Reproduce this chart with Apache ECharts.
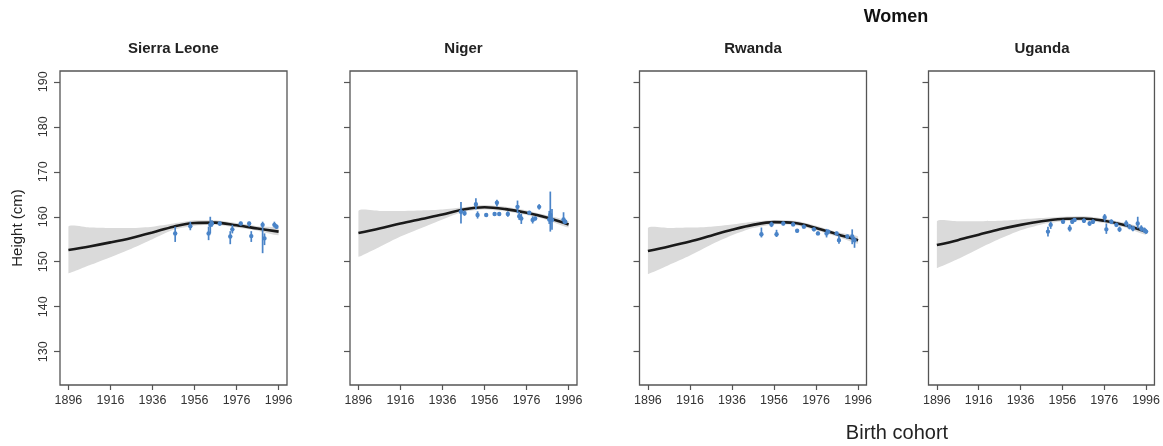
<!DOCTYPE html>
<html>
<head>
<meta charset="utf-8">
<script src="https://cdn.jsdelivr.net/npm/echarts@6/dist/echarts.min.js"></script>
<style>html,body{margin:0;padding:0;background:#fff}#c{width:1163px;height:446px}</style>
</head>
<body>
<div id="c"></div>
<script>
// ---- Data ----
const countries = ['Sierra Leone', 'Niger', 'Rwanda', 'Uganda'];
const xTicks = [1896, 1916, 1936, 1956, 1976, 1996];
const yTicks = [130, 140, 150, 160, 170, 180, 190];
const fitYears = [1896, 1906, 1916, 1926, 1936, 1946, 1956, 1966, 1976, 1986, 1996];

const sierraFit = [152.6, 153.4, 154.3, 155.3, 156.5, 157.8, 158.6, 158.7, 158.1, 157.4, 156.7];
const sierraUpper = [157.8, 157.6, 157.5, 157.5, 157.8, 158.5, 159.2, 159.2, 158.6, 157.9, 157.5];
const sierraLower = [147.4, 149.2, 151.0, 152.9, 155.0, 157.1, 158.0, 158.2, 157.6, 156.9, 155.9];

const nigerFit = [156.4, 157.4, 158.5, 159.5, 160.5, 161.6, 162.1, 161.7, 160.9, 159.8, 158.3];
const nigerUpper = [161.3, 161.3, 161.3, 161.4, 161.6, 162.1, 162.6, 162.2, 161.4, 160.3, 159.0];
const nigerLower = [151.1, 153.3, 155.6, 157.5, 159.4, 161.1, 161.6, 161.2, 160.4, 159.3, 157.6];

const rwandaFit = [152.4, 153.4, 154.5, 155.8, 157.1, 158.2, 158.8, 158.6, 157.5, 156.1, 154.8];
const rwandaUpper = [157.5, 157.5, 157.6, 157.8, 158.3, 158.9, 159.3, 159.1, 158.0, 156.6, 155.6];
const rwandaLower = [147.3, 149.3, 151.4, 153.8, 155.9, 157.5, 158.3, 158.1, 157.0, 155.6, 154.0];

const ugandaFit = [153.7, 154.8, 156.0, 157.2, 158.2, 159.0, 159.5, 159.6, 159.1, 158.1, 156.7];
const ugandaUpper = [159.0, 159.0, 159.0, 159.1, 159.4, 159.7, 160.0, 160.1, 159.6, 158.6, 157.4];
const ugandaLower = [148.6, 150.6, 152.9, 155.1, 157.0, 158.3, 159.0, 159.1, 158.6, 157.6, 156.0];

// [birth year, mean height, lower bar, upper bar]
const sierraPoints = [
  [1946.8,156.3,154.4,157.8],[1954,157.9,157.0,158.9],[1962.7,156.3,154.8,157.8],
  [1963.5,158.2,156.3,160.0],[1964.3,158.5,157.8,159.2],[1968,158.5,158.0,159.0],
  [1973,155.6,153.9,156.8],[1974,157.2,156.3,158.2],[1978,158.5,158.1,158.9],
  [1982,158.5,157.8,158.9],[1983,155.7,154.4,156.8],[1988.4,158.2,151.9,158.9],
  [1989.3,155.2,153.7,156.3],[1994,158.2,157.6,158.9],[1995,157.8,157.3,158.3]
];
const nigerPoints = [
  [1944.8,161.1,158.5,163.3],[1946.5,160.8,160.2,161.4],[1951.9,162.8,161.6,164.1],
  [1952.7,160.4,159.6,161.2],[1956.8,160.4,160.1,160.7],[1960.8,160.6,160.3,160.9],
  [1961.9,163.1,162.3,163.8],[1963,160.6,160.2,161.0],[1967.1,160.6,160.0,161.2],
  [1971.7,162.2,160.8,163.6],[1972.5,160.1,159.3,161.1],[1973.5,159.6,158.4,160.7],
  [1977.3,160.9,160.5,161.3],[1978.9,159.3,158.5,160.1],[1980.1,159.6,159.2,160.0],
  [1982,162.2,161.6,162.8],[1986.8,159.4,158.4,161.3],[1987.3,160.4,156.7,165.6],
  [1988.1,159.3,157.1,161.7],[1993.6,159.4,158.5,161.0],[1994.4,158.9,158.4,159.4]
];
const rwandaPoints = [
  [1950,156.1,155.4,157.6],[1954.8,158.3,157.7,158.9],[1957.2,156.1,155.5,157.1],
  [1960.4,158.5,158.1,158.9],[1965.1,158.3,157.9,158.7],[1967,156.9,156.5,157.3],
  [1970.2,157.8,157.4,158.2],[1975,157.2,156.8,157.6],[1976.9,156.3,155.9,156.7],
  [1981,156.3,155.4,157.3],[1981.8,156.7,156.3,157.1],[1985.8,156.3,155.9,156.7],
  [1986.9,154.8,154.0,155.9],[1990.9,155.6,155.2,156.0],[1993.2,155.6,153.9,157.2],
  [1994.3,154.8,153.1,155.5]
];
const ugandaPoints = [
  [1949.1,156.7,155.6,157.8],[1950.4,158.2,157.3,158.9],[1956.3,158.9,158.5,159.3],
  [1959.5,157.4,156.7,158.2],[1960.7,158.9,158.4,159.4],[1961.8,159.3,158.9,159.7],
  [1966.3,159.1,158.6,159.6],[1969,158.5,158.0,159.0],[1970.6,158.9,158.4,159.4],
  [1976.2,159.9,158.9,160.6],[1977,157.2,156.2,158.5],[1979.4,158.9,158.4,159.4],
  [1981.8,158.2,157.7,158.7],[1983.3,157.2,156.6,157.8],[1986.5,158.5,157.8,159.2],
  [1988.1,157.8,157.2,158.4],[1989.7,157.4,156.8,158.0],[1992,158.5,157.4,160.0],
  [1993.7,157.4,156.7,158.1],[1995.2,157.0,156.4,157.6],[1996,156.7,156.2,157.2]
];

const fits = [sierraFit, nigerFit, rwandaFit, ugandaFit];
const uppers = [sierraUpper, nigerUpper, rwandaUpper, ugandaUpper];
const lowers = [sierraLower, nigerLower, rwandaLower, ugandaLower];
const points = [sierraPoints, nigerPoints, rwandaPoints, ugandaPoints];

// ---- Layout / style ----
const BLUE = '#4a84c8';
const BOX = '#555555';
const LBL = '#333333';
const FONT = '"Liberation Sans", Arial, sans-serif';
const gridLefts = [60, 350, 639.5, 928.5];
const gridTop = 71, gridW = 227, gridH = 314;

const grids = [], xAxes = [], yAxes = [], series = [], graphics = [];
countries.forEach((name, i) => {
  grids.push({left: gridLefts[i], top: gridTop, width: gridW, height: gridH,
    show: true, borderColor: BOX, borderWidth: 1.3, backgroundColor: 'transparent'});
  xAxes.push({type: 'value', gridIndex: i, min: 1892, max: 2000,
    axisLine: {show: false}, splitLine: {show: false},
    axisTick: {show: true, inside: false, length: 5, customValues: xTicks, lineStyle: {color: BOX, width: 1.2}},
    axisLabel: {show: true, customValues: xTicks, margin: 9, color: LBL, fontSize: 12.5, fontFamily: FONT,
      formatter: v => String(v)}
  });
  yAxes.push({type: 'value', gridIndex: i, min: 122.6, max: 192.4,
    axisLine: {show: false}, splitLine: {show: false},
    axisTick: {show: true, inside: false, length: 6, customValues: yTicks, lineStyle: {color: BOX, width: 1.2}},
    axisLabel: {show: i === 0, customValues: yTicks, rotate: 90, margin: 10, color: LBL, fontSize: 12.5, fontFamily: FONT,
      formatter: v => String(v)}
  });
  // confidence band drawn as a polygon through the axis scales
  const bandData = fitYears.map((y, k) => [y, lowers[i][k], uppers[i][k]]);
  series.push({type: 'custom', xAxisIndex: i, yAxisIndex: i, data: bandData, z: 1, silent: true,
    encode: {x: 0, y: [1, 2]},
    renderItem: function (params, api) {
      if (params.dataIndex !== 0) return null;
      const top = bandData.map(d => api.coord([d[0], d[2]]));
      const bot = bandData.map(d => api.coord([d[0], d[1]])).reverse();
      const pts = top.concat(bot);
      let minX = Infinity, minY = Infinity, maxX = -Infinity, maxY = -Infinity;
      pts.forEach(p => { minX = Math.min(minX, p[0]); maxX = Math.max(maxX, p[0]); minY = Math.min(minY, p[1]); maxY = Math.max(maxY, p[1]); });
      return {type: 'polygon',
        shape: {points: pts, smooth: 0.2, smoothConstraint: [[minX, minY], [maxX, maxY]]},
        style: {fill: '#dadada'}};
    }
  });
  series.push({type: 'line', xAxisIndex: i, yAxisIndex: i,
    data: fitYears.map((y, k) => [y, fits[i][k]]),
    smooth: 0.35, symbol: 'none', lineStyle: {color: '#1a1a1a', width: 2.6}, silent: true, z: 3});
  series.push({type: 'custom', xAxisIndex: i, yAxisIndex: i, data: points[i], z: 4,
    encode: {x: 0, y: [1, 2, 3]},
    renderItem: function (params, api) {
      const x = api.value(0), v = api.value(1), lo = api.value(2), hi = api.value(3);
      const p = api.coord([x, v]), a = api.coord([x, lo]), b = api.coord([x, hi]);
      return {type: 'group', children: [
        {type: 'line', shape: {x1: a[0], y1: a[1], x2: b[0], y2: b[1]}, style: {stroke: BLUE, lineWidth: 1.7}},
        {type: 'circle', shape: {cx: p[0], cy: p[1], r: 2.2}, style: {fill: BLUE}}
      ]};
    }
  });
  graphics.push({type: 'text', x: gridLefts[i] + gridW / 2, y: 48.5,
    style: {text: name, font: 'bold 15px ' + FONT, fill: '#222', align: 'center', verticalAlign: 'middle'}});
});

graphics.push({type: 'text', x: 896, y: 17,
  style: {text: 'Women', font: 'bold 18px ' + FONT, fill: '#111', align: 'center', verticalAlign: 'middle'}});
graphics.push({type: 'text', x: 897, y: 433,
  style: {text: 'Birth cohort', font: '20px ' + FONT, fill: '#222', align: 'center', verticalAlign: 'middle'}});
graphics.push({type: 'text', x: 18, y: 228, rotation: Math.PI / 2,
  style: {text: 'Height (cm)', font: '15px ' + FONT, fill: '#222', align: 'center', verticalAlign: 'middle'}});

const chart = echarts.init(document.getElementById('c'), null, {renderer: 'canvas'});
chart.setOption({
  animation: false,
  grid: grids, xAxis: xAxes, yAxis: yAxes, series: series, graphic: graphics
});
</script>
</body>
</html>
